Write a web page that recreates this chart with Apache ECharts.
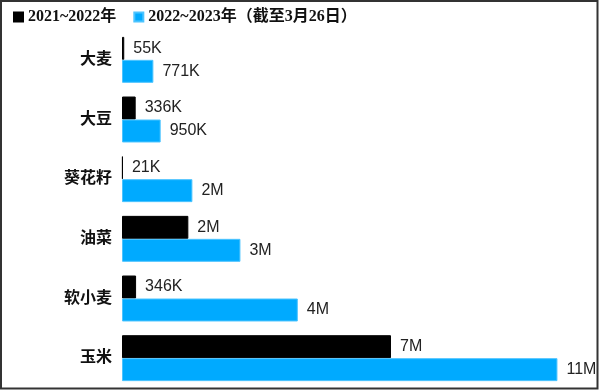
<!DOCTYPE html>
<html>
<head>
<meta charset="utf-8">
<script src="https://cdn.jsdelivr.net/npm/echarts@6/dist/echarts.min.js"></script>
<style>html,body{margin:0;padding:0;background:#fff;}#c{width:600px;height:391px;}</style>
</head>
<body>
<div id="c"></div>
<script>
const categories = ['大麦', '大豆', '葵花籽', '油菜', '软小麦', '玉米'];
const seriesNames = ['2021~2022年', '2022~2023年（截至3月26日）'];
const values2122 = [55000, 336000, 21000, 1630000, 346000, 6610000];
const values2223 = [771000, 950000, 1730000, 2910000, 4320000, 10700000];

function fmt(v) {
  if (v < 1e6) return Math.round(v / 1000) + 'K';
  return Math.round(v / 1e6) + 'M';
}

const chart = echarts.init(document.getElementById('c'));
const labelStyle = {
  show: true, position: 'right', distance: 9,
  fontFamily: 'Liberation Sans, Arial, sans-serif', fontSize: 16, color: '#222',
  formatter: p => fmt(p.value)
};
chart.setOption({
  animation: false,
  graphic: [{
    type: 'rect', shape: { x: 1, y: 1, width: 596.5, height: 387.5 },
    style: { fill: 'none', stroke: '#333', lineWidth: 2 }, z: 100
  }],
  legend: {
    left: 8, top: 4, itemWidth: 9, itemHeight: 9, itemGap: 17, icon: 'rect',
    textStyle: { fontFamily: 'Liberation Serif, Noto Sans CJK SC, serif', fontWeight: 'bold', fontSize: 16, color: '#111' },
    data: seriesNames
  },
  grid: { left: 122, right: 10, top: 30, bottom: 3 },
  xAxis: { type: 'value', min: 0, max: 11500000, show: false },
  yAxis: {
    type: 'category', data: categories, inverse: true,
    axisLine: { show: false }, axisTick: { show: false },
    axisLabel: { margin: 10, fontFamily: 'Liberation Serif, Noto Sans CJK SC, serif', fontWeight: 'bold', fontSize: 16, color: '#111' }
  },
  series: [
    { name: seriesNames[0], type: 'bar', data: values2122, barGap: '0%', barCategoryGap: '23%',
      itemStyle: { color: '#000', borderColor: '#000', borderWidth: 1 }, label: labelStyle },
    { name: seriesNames[1], type: 'bar', data: values2223, barGap: '0%', barCategoryGap: '23%',
      itemStyle: { color: '#00aaff', borderColor: '#4cc4ff', borderWidth: 1 }, label: labelStyle }
  ]
});
</script>
</body>
</html>
